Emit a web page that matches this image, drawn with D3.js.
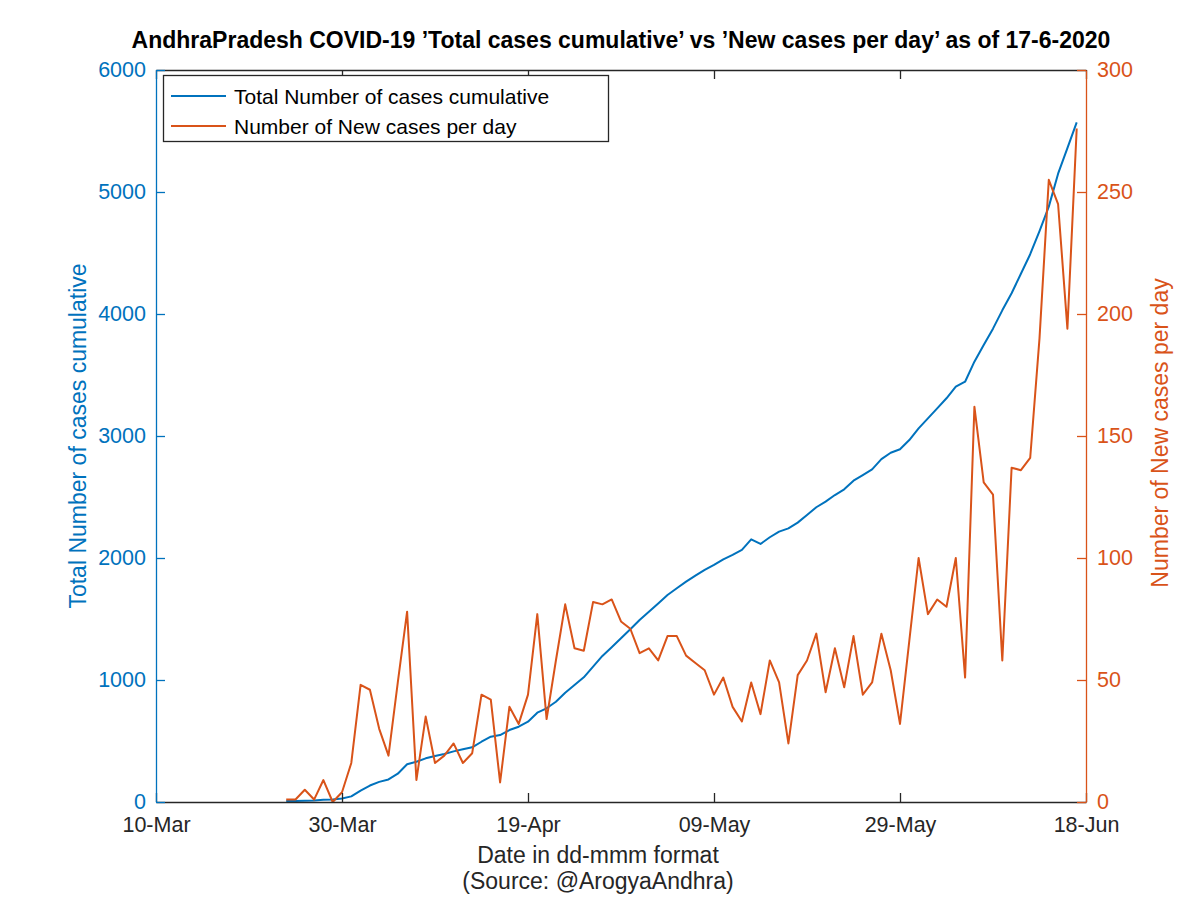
<!DOCTYPE html>
<html>
<head>
<meta charset="utf-8">
<script src="https://cdn.jsdelivr.net/npm/d3@7"></script>
<style>
  body { margin: 0; background: #fff; }
  svg { display: block; }
  text { font-family: "Liberation Sans", Arial, Helvetica, sans-serif; }
</style>
</head>
<body>
<svg id="chart" width="1200" height="898"></svg>
<script>
// ---- Data ----
const startDate = "2020-03-24"; // first day of the series, one value per day after
const totalCases = [
  8, 8, 11, 12, 19, 21, 28, 46, 94, 135,
  165, 185, 232, 310, 330, 358, 377, 393, 415, 432,
  448, 494, 535, 549, 590, 617, 658, 732, 768, 822,
  896, 959, 1022, 1109, 1197, 1268, 1342, 1416, 1492, 1560,
  1628, 1697, 1752, 1806, 1855, 1902, 1943, 1989, 2025, 2066,
  2153, 2115, 2170, 2216, 2243, 2290, 2352, 2416, 2462, 2516,
  2563, 2634, 2680, 2727, 2810, 2863, 2891, 2967, 3063, 3145,
  3227, 3309, 3404, 3445, 3609, 3746, 3880, 4030, 4170, 4330,
  4490, 4680, 4880, 5150, 5360, 5570
];
const newCases = [
  1, 1, 5, 1, 9, 0, 4, 16, 48, 46,
  30, 19, 49, 78, 9, 35, 16, 19, 24, 16,
  20, 44, 42, 8, 39, 32, 44, 77, 34, 58,
  81, 63, 62, 82, 81, 83, 74, 71, 61, 63,
  58, 68, 68, 60, 57, 54, 44, 51, 39, 33,
  49, 36, 58, 49, 24, 52, 58, 69, 45, 63,
  47, 68, 44, 49, 69, 54, 32, 66, 100, 77,
  83, 80, 100, 51, 162, 131, 126, 58, 137, 136,
  141, 190, 255, 245, 194, 276
];
const xTickDates = ["2020-03-10", "2020-03-30", "2020-04-19", "2020-05-09", "2020-05-29", "2020-06-18"];
const xTickLabels = ["10-Mar", "30-Mar", "19-Apr", "09-May", "29-May", "18-Jun"];
const leftTicks = [0, 1000, 2000, 3000, 4000, 5000, 6000];
const rightTicks = [0, 50, 100, 150, 200, 250, 300];
const titleText = "AndhraPradesh COVID-19 \u2019Total cases cumulative\u2019 vs \u2019New cases per day\u2019 as of 17-6-2020";
const seriesNames = ["Total Number of cases cumulative", "Number of New cases per day"];

// ---- Layout ----
const W = 1200, H = 898;
const L = 156, R = 1086, T = 70, B = 802;
const blue = "#0072BD", orange = "#D95319";
const tickLen = 9;
const fs = 21.5;
const ff = "Liberation Sans, Arial, sans-serif";

const parse = d3.utcParse("%Y-%m-%d");
const day0 = parse(startDate);
const dates = totalCases.map((_, i) => d3.utcDay.offset(day0, i));

const x = d3.scaleUtc().domain([parse(xTickDates[0]), parse(xTickDates[xTickDates.length - 1])]).range([L, R]);
const yL = d3.scaleLinear().domain([0, 6000]).range([B, T]);
const yR = d3.scaleLinear().domain([0, 300]).range([B, T]);

const svg = d3.select("#chart");
svg.append("rect").attr("width", W).attr("height", H).attr("fill", "#fff");

// Data lines
const lineL = d3.line().x((d, i) => x(dates[i])).y(d => yL(d));
const lineR = d3.line().x((d, i) => x(dates[i])).y(d => yR(d));
svg.append("path").datum(totalCases).attr("d", lineL)
  .attr("fill", "none").attr("stroke", blue).attr("stroke-width", 2).attr("stroke-linejoin", "round");
svg.append("path").datum(newCases).attr("d", lineR)
  .attr("fill", "none").attr("stroke", orange).attr("stroke-width", 2).attr("stroke-linejoin", "round");

// Bottom axis
const xTicks = xTickDates.map(parse);
const gx = svg.append("g").attr("transform", `translate(0,${B})`)
  .call(d3.axisBottom(x).tickValues(xTicks).tickFormat((d, i) => xTickLabels[i]).tickSizeInner(-tickLen).tickSizeOuter(0).tickPadding(15));
gx.select(".domain").attr("stroke", "#262626").attr("stroke-width", 1.3);
gx.selectAll(".tick line").attr("stroke", "#262626").attr("stroke-width", 1.3);
gx.selectAll("text").attr("font-size", fs).attr("fill", "#262626").attr("font-family", ff);

// Top axis (ticks only)
const gxt = svg.append("g").attr("transform", `translate(0,${T})`)
  .call(d3.axisTop(x).tickValues(xTicks).tickFormat("").tickSizeInner(-tickLen).tickSizeOuter(0));
gxt.select(".domain").attr("stroke", "#262626").attr("stroke-width", 1.3);
gxt.selectAll(".tick line").attr("stroke", "#262626").attr("stroke-width", 1.3);

// Left axis
const gl = svg.append("g").attr("transform", `translate(${L},0)`)
  .call(d3.axisLeft(yL).tickValues(leftTicks).tickFormat(d3.format("d")).tickSizeInner(-tickLen).tickSizeOuter(0).tickPadding(10));
gl.select(".domain").attr("stroke", blue).attr("stroke-width", 1.3);
gl.selectAll(".tick line").attr("stroke", blue).attr("stroke-width", 1.3);
gl.selectAll("text").attr("font-size", fs).attr("fill", blue).attr("font-family", ff);

// Right axis
const gr = svg.append("g").attr("transform", `translate(${R},0)`)
  .call(d3.axisRight(yR).tickValues(rightTicks).tickFormat(d3.format("d")).tickSizeInner(-tickLen).tickSizeOuter(0).tickPadding(11));
gr.select(".domain").attr("stroke", orange).attr("stroke-width", 1.3);
gr.selectAll(".tick line").attr("stroke", orange).attr("stroke-width", 1.3);
gr.selectAll("text").attr("font-size", fs).attr("fill", orange).attr("font-family", ff);

// Title
svg.append("text").attr("x", (L + R) / 2).attr("y", 48).attr("text-anchor", "middle")
  .attr("font-size", 23).attr("font-weight", "bold").attr("fill", "#000").text(titleText);

// X label
const xLabelX = 598;
svg.append("text").attr("x", xLabelX).attr("y", 863).attr("text-anchor", "middle")
  .attr("font-size", 23).attr("fill", "#262626").text("Date in dd-mmm format");
svg.append("text").attr("x", xLabelX).attr("y", 889).attr("text-anchor", "middle")
  .attr("font-size", 23).attr("fill", "#262626").text("(Source: @ArogyaAndhra)");

// Y labels
svg.append("text").attr("transform", `translate(86,${(T + B) / 2}) rotate(-90)`).attr("text-anchor", "middle")
  .attr("font-size", 23).attr("fill", blue).text(seriesNames[0]);
svg.append("text").attr("transform", `translate(1168,433) rotate(-90)`).attr("text-anchor", "middle")
  .attr("font-size", 23).attr("fill", orange).text(seriesNames[1]);

// Legend
const lg = svg.append("g");
lg.append("rect").attr("x", 163.5).attr("y", 75.5).attr("width", 445).attr("height", 66)
  .attr("fill", "#fff").attr("stroke", "#262626").attr("stroke-width", 1.3);
[blue, orange].forEach((c, i) => {
  const yy = 96 + i * 30;
  lg.append("line").attr("x1", 171).attr("x2", 226).attr("y1", yy).attr("y2", yy)
    .attr("stroke", c).attr("stroke-width", 2);
  lg.append("text").attr("x", 234).attr("y", yy + 7.5).attr("font-size", 21).attr("fill", "#000").text(seriesNames[i]);
});
</script>
</body>
</html>
